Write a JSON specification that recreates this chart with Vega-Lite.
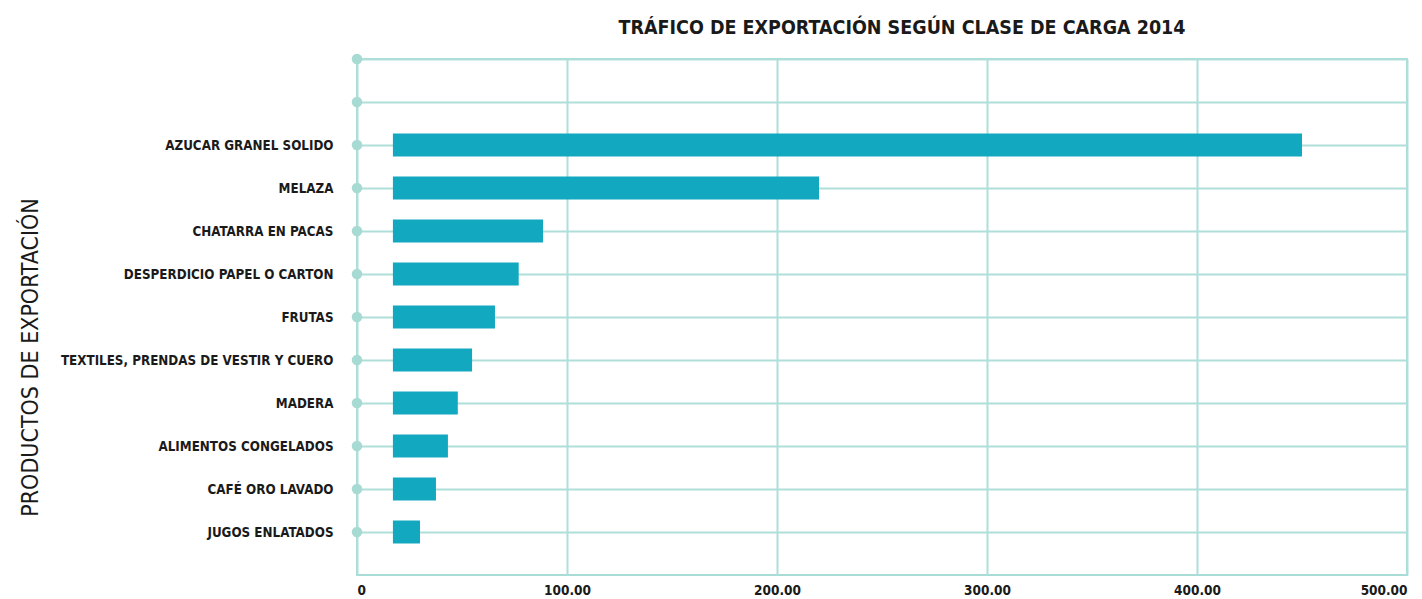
{
  "$schema": "https://vega.github.io/schema/vega-lite/v6.json",
  "autosize": {"type": "none"},
  "padding": {"left": 357, "top": 59, "right": 15, "bottom": 24},
  "width": 1050,
  "height": 516,
  "background": "white",
  "title": {
    "text": "TRÁFICO DE EXPORTACIÓN SEGÚN CLASE DE CARGA 2014",
    "font": "DejaVu Sans Condensed, sans-serif",
    "fontSize": 19.5,
    "fontWeight": "bold",
    "color": "#1a1a1a",
    "anchor": "middle",
    "dx": 20,
    "offset": 14
  },
  "config": {
    "view": {"stroke": "#a9dcd6", "strokeWidth": 2},
    "axis": {
      "labelFont": "DejaVu Sans Condensed, sans-serif",
      "titleFont": "DejaVu Sans Condensed, sans-serif",
      "labelColor": "#1a1a1a",
      "titleColor": "#1a1a1a",
      "gridColor": "#b0dfd9",
      "gridWidth": 2,
      "gridOpacity": 1,
      "ticks": false,
      "domain": false,
      "labelLimit": 0
    }
  },
  "data": {
    "values": [
      {"producto": " ", "valor": null},
      {"producto": "  ", "valor": null},
      {"producto": "AZUCAR GRANEL SOLIDO", "valor": 450},
      {"producto": "MELAZA", "valor": 220},
      {"producto": "CHATARRA EN PACAS", "valor": 88.6},
      {"producto": "DESPERDICIO PAPEL O CARTON", "valor": 77},
      {"producto": "FRUTAS", "valor": 65.7},
      {"producto": "TEXTILES, PRENDAS DE VESTIR Y CUERO", "valor": 54.8},
      {"producto": "MADERA", "valor": 48},
      {"producto": "ALIMENTOS CONGELADOS", "valor": 43.3},
      {"producto": "CAFÉ ORO LAVADO", "valor": 37.6},
      {"producto": "JUGOS ENLATADOS", "valor": 30}
    ]
  },
  "encoding": {
    "y": {
      "field": "producto",
      "type": "nominal",
      "sort": [" ", "  ", "AZUCAR GRANEL SOLIDO", "MELAZA", "CHATARRA EN PACAS", "DESPERDICIO PAPEL O CARTON", "FRUTAS", "TEXTILES, PRENDAS DE VESTIR Y CUERO", "MADERA", "ALIMENTOS CONGELADOS", "CAFÉ ORO LAVADO", "JUGOS ENLATADOS"],
      "scale": {"type": "point", "padding": 0.5, "align": 0},
      "axis": {
        "title": "PRODUCTOS DE EXPORTACIÓN",
        "titleFontSize": 23,
        "titleFontWeight": "normal",
        "titleX": -315,
        "titleY": 298,
        "titleAlign": "center",
        "labelFontSize": 13.3,
        "labelFontWeight": "bold",
        "labelPadding": 24,
        "grid": true
      }
    }
  },
  "layer": [
    {
      "mark": {"type": "bar", "height": 23, "color": "#12a8bf"},
      "encoding": {
        "x": {
          "field": "valor",
          "type": "quantitative",
          "scale": {"domain": [0, 500], "nice": false},
          "axis": {
            "title": null,
            "values": [0, 100, 200, 300, 400, 500],
            "labelExpr": "datum.value == 0 ? '0' : format(datum.value, '.2f')",
            "labelFontSize": 13.5,
            "labelFontWeight": "bold",
            "labelPadding": 8,
            "labelFlush": true,
            "grid": true
          }
        },
        "x2": {"datum": 17.1}
      }
    },
    {
      "mark": {"type": "point", "filled": true, "size": 110, "color": "#a6dad3", "opacity": 1},
      "encoding": {
        "x": {"datum": 0, "type": "quantitative"}
      }
    }
  ]
}
